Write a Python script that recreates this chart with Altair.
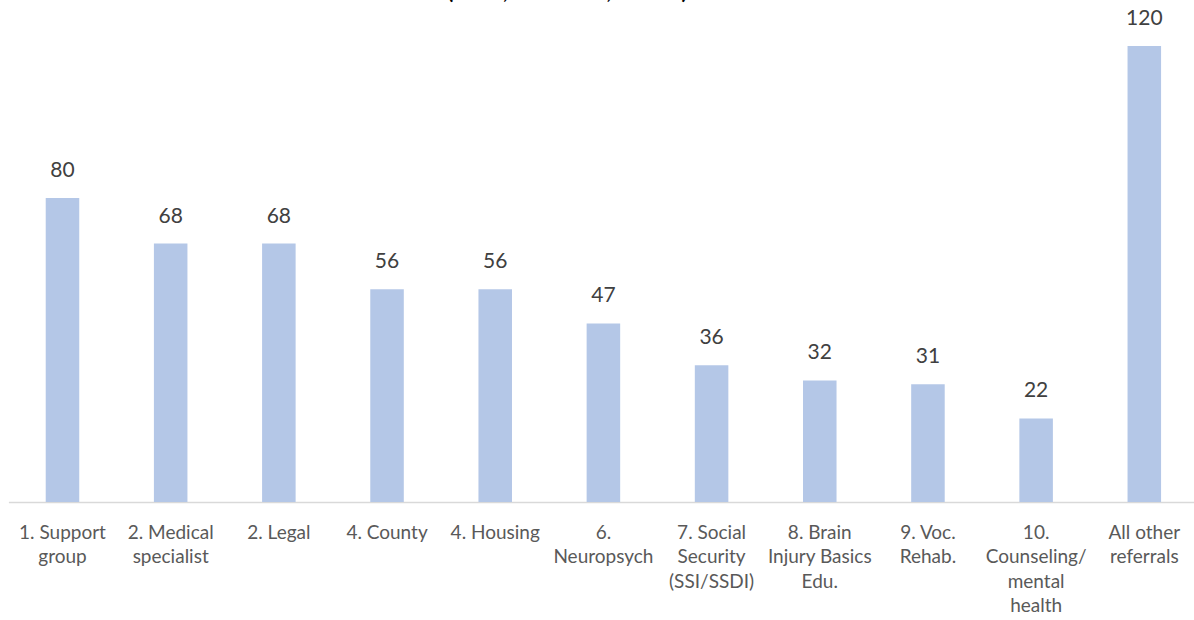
import altair as alt
import pandas as pd

# Referral categories (line breaks mark where the axis label wraps)
categories = [
    "1. Support\ngroup",
    "2. Medical\nspecialist",
    "2. Legal",
    "4. County",
    "4. Housing",
    "6.\nNeuropsych",
    "7. Social\nSecurity\n(SSI/SSDI)",
    "8. Brain\nInjury Basics\nEdu.",
    "9. Voc.\nRehab.",
    "10.\nCounseling/\nmental\nhealth",
    "All other\nreferrals",
]
counts = [80, 68, 68, 56, 56, 47, 36, 32, 31, 22, 120]

title_text = "(FY19, Statewide, N=616)"

df = pd.DataFrame({"category": categories, "count": counts})

FONT = "Lato"
BAR = "#B4C7E7"

x_enc = alt.X(
    "category:N",
    sort=categories,
    scale=alt.Scale(range=[0, 1190], paddingInner=0.69, paddingOuter=0.345),
    axis=alt.Axis(
        title=None,
        labelAngle=0,
        labelExpr="split(datum.value, '\\n')",
        labelFont=FONT,
        labelFontSize=19,
        labelColor="#595959",
        labelLineHeight=24.5,
        labelBaseline="alphabetic",
        labelPadding=36,
        labelLimit=0,
        labelOverlap=False,
        labelFlush=False,
        ticks=False,
        tickSize=0,
        domainColor="#D9D9D9",
        domainWidth=1.5,
        grid=False,
    ),
)
y_enc = alt.Y(
    "count:Q",
    scale=alt.Scale(domain=[0, 120], nice=False, zero=True),
    axis=None,
)

bars = alt.Chart(df).mark_bar(color=BAR).encode(x=x_enc, y=y_enc)

values = alt.Chart(df).mark_text(
    font=FONT, fontSize=21, color="#404040", baseline="alphabetic", dy=-21
).encode(x=x_enc, y=y_enc, text="count:Q")

# Second title line sits at the very top edge of the canvas
title = alt.Chart(pd.DataFrame({"t": [title_text]})).mark_text(
    font=FONT, fontSize=21, fontWeight="bold", color="#000000",
    baseline="alphabetic", align="center",
).encode(x=alt.value(559), y=alt.value(-47), text="t:N")

chart = (
    alt.layer(bars, values, title)
    .properties(
        width=1185.6,
        height=456,
        padding={"left": 8.4, "right": 0, "top": 46, "bottom": 118},
        autosize=alt.AutoSizeParams(type="none"),
        background="white",
    )
    .configure_view(stroke=None)
)

chart.save("out.html", embed_options={"renderer": "svg", "actions": False})
